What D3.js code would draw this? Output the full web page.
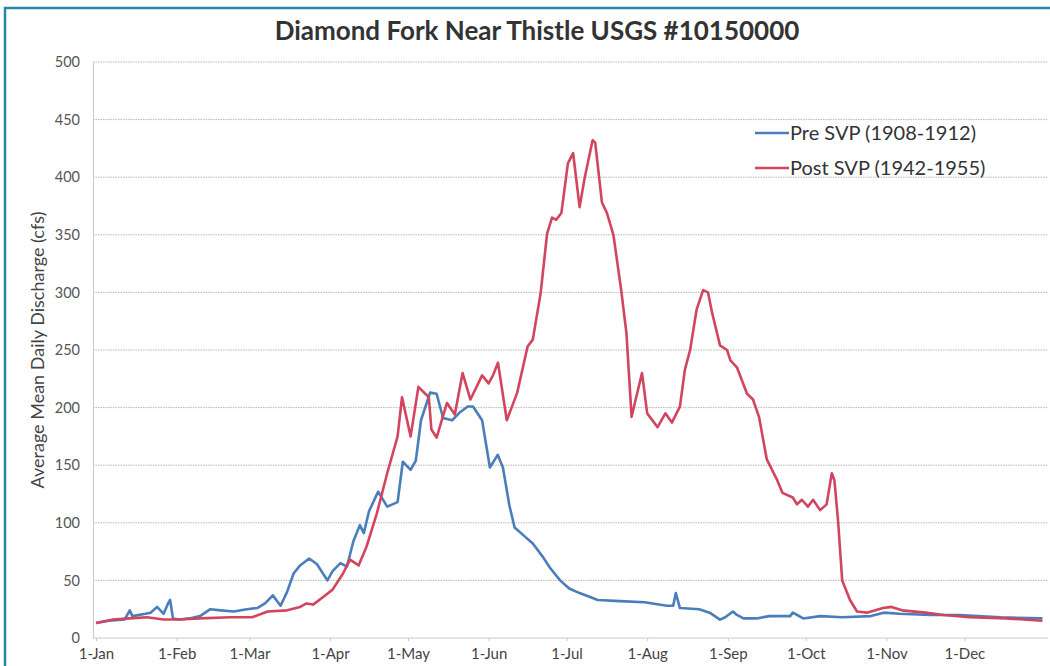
<!DOCTYPE html>
<html>
<head>
<meta charset="utf-8">
<script src="https://cdn.jsdelivr.net/npm/d3@7"></script>
<style>
    body { margin: 0; background: #fff; }
    svg { display: block; }
</style>
</head>
<body>
<script>
// day of year (0 = 1-Jan) and average mean daily discharge (cfs)
var preDays = [0, 5, 11, 13, 14, 19, 21, 23.5, 26, 27.7, 28.5, 29.6, 32, 36, 40, 44, 48, 53, 58, 62, 65, 68, 71, 73.5,
    76, 78.5, 82, 85, 89, 91, 94, 96.5, 99, 101.5, 103, 105, 108.5, 112, 116, 118, 121, 123, 125, 128.5, 131,
    133.5, 137, 140, 143, 145, 148.5, 151.5, 154.5, 156.5, 159, 161, 165, 168, 172, 174.6, 178.5, 182, 186,
    193, 201.5, 211, 219.6, 222, 223, 224.6, 232, 236, 240, 242, 245, 246.5, 249, 254, 259, 267, 268, 269.6,
    272, 278.5, 287, 298, 303, 309, 321, 332, 348, 364];
var preCfs = [13, 15, 16, 24, 19, 21, 22, 27, 21, 30, 33, 17, 16, 17, 19, 25, 24, 23, 25, 26, 30, 37, 28, 40,
    56, 63, 69, 64, 50, 58, 65, 62, 84, 98, 91, 110, 127, 114, 118, 153, 146, 154, 189, 213, 212,
    191, 189, 196, 201, 201, 189, 148, 159, 148, 115, 96, 88, 82, 70, 61, 50, 43, 39,
    33, 32, 31, 28, 28, 39, 26, 25, 22, 16, 18, 23, 20, 17, 17, 19, 19, 22, 20,
    17, 19, 18, 19, 22, 21, 20, 20, 18, 17];

var postDays = [0, 6.5, 13, 19.6, 26, 32, 40, 51.5, 60, 66, 73.5, 78.5, 81, 83.5, 87, 91, 95, 97.7, 101, 104,
    108, 112, 116, 117.7, 121, 124, 128, 129, 131, 135, 138, 141, 144, 148.5, 151, 152.7, 154.6, 158, 162,
    166, 168, 171, 173.5, 175.4, 177, 179, 181.5, 183.5, 186, 188, 191, 192, 194.6, 196.5, 199, 202, 204,
    206, 210, 212, 216, 219, 221.5, 224.6, 226.5, 228.5, 231, 233.5, 235.4, 237, 240, 242.7, 244, 246.5,
    250.4, 252.7, 255, 258, 262, 264, 268, 269.6, 271.5, 273.8, 275.8, 278.5, 281, 283, 284, 285.4, 287,
    290, 292.7, 296.5, 302.7, 306, 310, 319, 326, 336, 350, 364];
var postCfs = [13, 16, 17, 18, 16, 16, 17, 18, 18, 23, 24, 27, 30, 29, 35, 42, 56, 68, 63, 79,
    108, 143, 175, 209, 175, 218, 209, 181, 174, 204, 194, 230, 207, 228, 221, 228, 239, 189, 213,
    253, 259, 299, 351, 365, 363, 369, 412, 421, 374, 400, 432, 430, 378, 369, 350, 302, 265,
    192, 230, 195, 183, 195, 187, 201, 233, 250, 285, 302, 300, 282, 254, 250, 241, 235,
    212, 207, 192, 155, 137, 126, 122, 116, 120, 114, 120, 111, 116, 143, 137, 102, 50,
    33, 23, 22, 26, 27, 24, 22, 20, 18, 17, 15];

var monthDays = [0, 31, 59, 90, 120, 151, 181, 212, 243, 273, 304, 334];
var monthLabels = ['1-Jan', '1-Feb', '1-Mar', '1-Apr', '1-May', '1-Jun', '1-Jul', '1-Aug', '1-Sep', '1-Oct', '1-Nov', '1-Dec'];
var yTicks = [0, 50, 100, 150, 200, 250, 300, 350, 400, 450, 500];

var seriesNames = ['Pre SVP (1908-1912)', 'Post SVP (1942-1955)'];
var seriesColors = ['#4a7ebb', '#d2455f'];

function drawChart () {
    var width = 1050,
        height = 666;
    var font = "Lato, 'Open Sans', sans-serif";

    var svg = d3.select("body").append("svg")
        .attr("width", width)
        .attr("height", height)
        .style("font-family", font);

    // scanned frame edge
    svg.append("path")
        .attr("d", "M5,666 L5,8 L1050,8")
        .attr("fill", "none")
        .attr("stroke", "#2688a6")
        .attr("stroke-width", 2.5);

    var x = d3.scaleLinear().domain([0, 365]).range([96, 1045]);
    var y = d3.scaleLinear().domain([0, 500]).range([638, 62]);

    // gridlines
    svg.append("g")
        .selectAll("line")
        .data(yTicks.slice(1))
        .enter().append("line")
        .attr("x1", 93)
        .attr("x2", 1048)
        .attr("y1", function (d) { return y(d); })
        .attr("y2", function (d) { return y(d); })
        .attr("stroke", "#b8b8b8")
        .attr("stroke-width", 1)
        .attr("stroke-dasharray", "1.5,1");

    // y axis
    var yAxis = svg.append("g")
        .attr("transform", "translate(93,0)")
        .call(d3.axisLeft(y).tickValues(yTicks).tickSize(0).tickPadding(13));
    yAxis.select(".domain").attr("stroke", "#c8c8c8");
    yAxis.selectAll("text")
        .attr("fill", "#555")
        .style("font-size", "14.5px")
        .style("font-family", font);

    // x axis
    var xAxis = svg.append("g")
        .attr("transform", "translate(0,638)")
        .call(d3.axisBottom(x)
            .tickValues(monthDays)
            .tickFormat(function (d, i) { return monthLabels[i]; })
            .tickSize(3)
            .tickPadding(7));
    xAxis.select(".domain")
        .attr("d", "M93,0H1048")
        .attr("stroke", "#c8c8c8");
    xAxis.selectAll(".tick line").attr("stroke", "#c8c8c8");
    xAxis.selectAll("text")
        .attr("fill", "#444")
        .style("font-size", "15px")
        .style("font-family", font);

    // series lines
    var line = d3.line()
        .x(function (d) { return x(d[0]); })
        .y(function (d) { return y(d[1]); });

    var preData = d3.zip(preDays, preCfs);
    var postData = d3.zip(postDays, postCfs);

    svg.append("path")
        .datum(preData)
        .attr("d", line)
        .attr("fill", "none")
        .attr("stroke", seriesColors[0])
        .attr("stroke-width", 2.6)
        .attr("stroke-linejoin", "round");

    svg.append("path")
        .datum(postData)
        .attr("d", line)
        .attr("fill", "none")
        .attr("stroke", seriesColors[1])
        .attr("stroke-width", 2.6)
        .attr("stroke-linejoin", "round");

    // title
    svg.append("text")
        .attr("x", 537)
        .attr("y", 40)
        .attr("text-anchor", "middle")
        .attr("fill", "#333")
        .style("font-size", "26px")
        .style("font-weight", "bold")
        .text("Diamond Fork Near Thistle USGS #10150000");

    // y axis title
    svg.append("text")
        .attr("transform", "translate(44,350) rotate(-90)")
        .attr("text-anchor", "middle")
        .attr("fill", "#444")
        .style("font-size", "18px")
        .text("Average Mean Daily Discharge (cfs)");

    // legend
    var legend = svg.append("g")
        .selectAll("g")
        .data(seriesNames)
        .enter().append("g")
        .attr("transform", function (d, i) { return "translate(755," + (133 + i * 35) + ")"; });
    legend.append("line")
        .attr("x1", 0)
        .attr("x2", 34)
        .attr("stroke", function (d, i) { return seriesColors[i]; })
        .attr("stroke-width", 2.6);
    legend.append("text")
        .attr("x", 35)
        .attr("y", 7)
        .attr("fill", "#333")
        .style("font-size", "20px")
        .text(function (d) { return d; });
}

drawChart();
</script>
</body>
</html>
